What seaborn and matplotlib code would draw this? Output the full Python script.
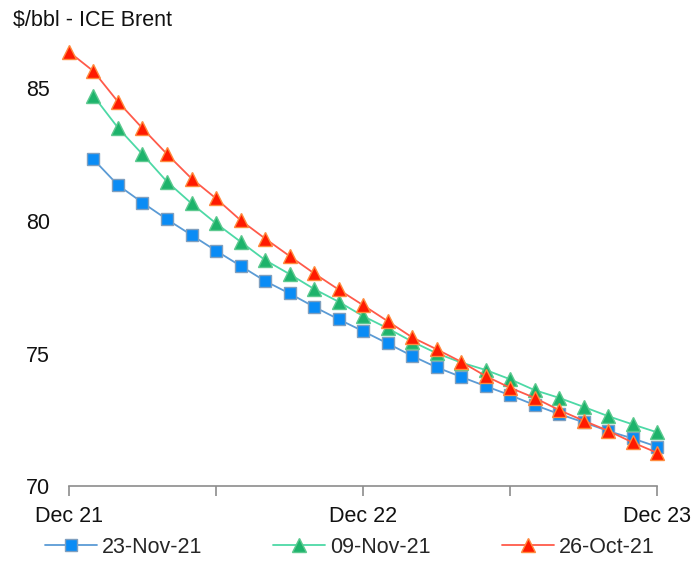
import numpy as np
import pandas as pd
import seaborn as sns
import matplotlib.pyplot as plt

# monthly contract index: 0 = Dec 21 ... 24 = Dec 23
months = list(range(25))
tick_labels = ['Dec 21', '', 'Dec 22', '', 'Dec 23']

nov23 = [None, 82.32, 81.35, 80.69, 80.06, 79.47, 78.88, 78.31, 77.74, 77.27,
         76.77, 76.30, 75.85, 75.39, 74.92, 74.49, 74.13, 73.78, 73.44, 73.07,
         72.73, 72.42, 72.09, 71.81, 71.50]
nov09 = [None, 84.71, 83.51, 82.51, 81.48, 80.66, 79.91, 79.22, 78.53, 78.00,
         77.44, 76.96, 76.42, 75.96, 75.46, 75.02, 74.67, 74.39, 74.04, 73.63,
         73.34, 73.00, 72.65, 72.34, 72.04]
oct26 = [86.37, 85.64, 84.49, 83.49, 82.52, 81.60, 80.85, 80.03, 79.34, 78.68,
         78.03, 77.42, 76.83, 76.23, 75.62, 75.17, 74.70, 74.16, 73.72, 73.34,
         72.88, 72.48, 72.10, 71.66, 71.27]

series = {'23-Nov-21': nov23, '09-Nov-21': nov09, '26-Oct-21': oct26}
styles = {
    '23-Nov-21': dict(color='#5b9bd5', marker='s', mfc='#0a8cf5', mec='#7f9fbf', ms=8.5),
    '09-Nov-21': dict(color='#4dd9a6', marker='^', mfc='#1db36b', mec='#5cc98f', ms=9.5),
    '26-Oct-21': dict(color='#ff5a4a', marker='^', mfc='#ff1a00', mec='#ff8a3d', ms=9.5),
}

df = pd.DataFrame({'month': months, **series})

sns.set_style('white')
plt.rcParams['font.family'] = ['Liberation Sans', 'DejaVu Sans']
fs = 15.5

fig = plt.figure(figsize=(6.99, 5.63), dpi=100)
ax = fig.add_axes([0.0987, 0.1359, 0.8413, 0.7781])

for name in series:
    st = styles[name]
    sns.lineplot(data=df, x='month', y=name, ax=ax, color=st['color'], lw=1.3,
                 marker=st['marker'], markerfacecolor=st['mfc'],
                 markeredgecolor=st['mec'], markeredgewidth=1.0,
                 markersize=st['ms'], label=name, clip_on=False)

ax.set_xlim(0, 24)
ax.set_ylim(70, 86.5)
ax.set_xticks([0, 6, 12, 18, 24])
ax.set_xticklabels(tick_labels)
ax.set_yticks([70, 75, 80, 85])
ax.set_xlabel('')
ax.set_ylabel('')

for side in ['top', 'right', 'left']:
    ax.spines[side].set_visible(False)
ax.spines['bottom'].set_color('#8c8c8c')
ax.spines['bottom'].set_linewidth(1.2)
ax.tick_params(axis='x', direction='out', length=7, width=1.2, color='#8c8c8c',
               labelsize=fs, pad=7, labelcolor='#111111', bottom=True)
ax.tick_params(axis='y', length=0, labelsize=fs, pad=13.5, labelcolor='#111111')

fig.text(0.019, 0.964, '\\$/bbl - ICE Brent', fontsize=fs, color='#111111',
         ha='left', va='center')

ax.get_legend().remove()
handles, labels = ax.get_legend_handles_labels()
fig.legend(handles, labels, loc='lower center', bbox_to_anchor=(0.5, -0.025),
           ncol=3, frameon=False, fontsize=fs, handlelength=2.42,
           handletextpad=0.23, columnspacing=3.3)

fig.savefig('out.png', dpi=100)
